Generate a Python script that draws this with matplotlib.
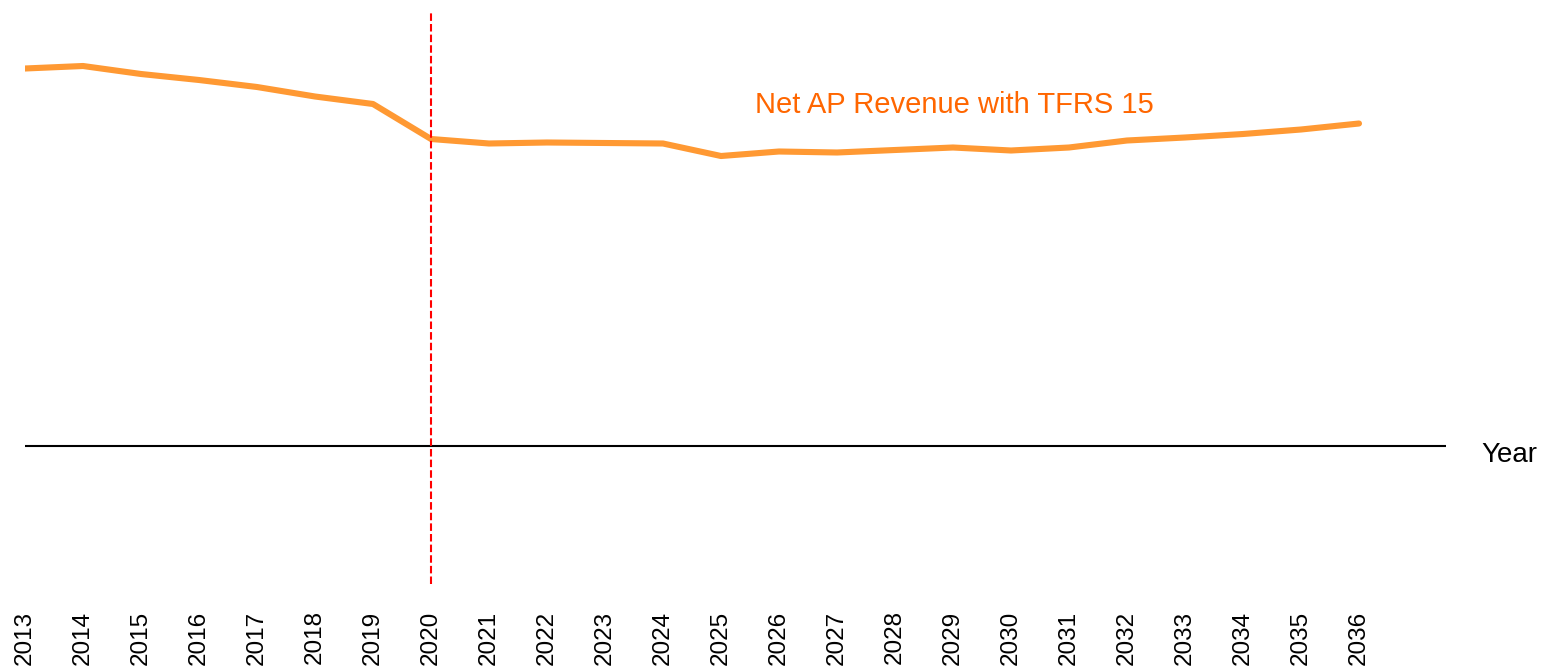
import matplotlib
matplotlib.use("Agg")
import matplotlib.pyplot as plt

plt.rcParams['font.family'] = ['Liberation Sans', 'DejaVu Sans']

years = list(range(2013, 2037))
revenue = [377, 379.5, 371.5, 365.5, 358.5, 349, 341.5, 306.5, 302, 303, 302.5, 302,
           289.5, 294, 293, 295.5, 298, 295, 298, 305, 308, 311.5, 316, 322]
year_labels = [str(y) for y in years]
series_label = "Net AP Revenue with TFRS 15"
x_label = "Year"
marker_year = 2020

fig = plt.figure(figsize=(15.42, 6.66), dpi=100)
ax = fig.add_axes([25/1542, (666-584)/666, 1421/1542, 573/666])

ax.plot(years, revenue, color='#FF9933', lw=4.4, solid_capstyle='round', solid_joinstyle='round', zorder=3)
ax.axhline(0, color='black', lw=1.5, zorder=2)
ax.axvline(marker_year, color='#FF0000', lw=1.5, linestyle=(0, (3.6, 1.5)), zorder=4)

ax.set_xlim(2013, 2037.5)
ax.set_ylim(-138.5, 434.5)
ax.set_xticks(years)
ax.set_xticklabels(year_labels, rotation=90, fontsize=17.5, va='top')
ax.tick_params(axis='x', length=0, pad=19)
ax.set_yticks([])
for s in ax.spines.values():
    s.set_visible(False)

ax.text(0.654, 0.836, series_label, transform=ax.transAxes, ha='center', va='center',
        color='#FF6600', fontsize=21)
fig.text(1481/1542, 1 - 455/666, x_label, ha='left', va='center', fontsize=20)

fig.savefig('out.png', dpi=100)
